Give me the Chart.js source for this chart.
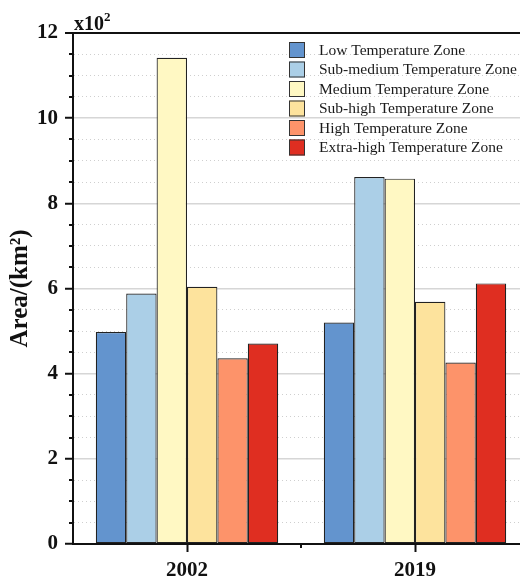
<!DOCTYPE html>
<html>
<head>
<meta charset="utf-8">
<script src="https://cdn.jsdelivr.net/npm/chart.js@4"></script>
<style>
  body { margin: 0; background: #fff; }
  #wrap { width: 520px; height: 580px; overflow: hidden; }
</style>
</head>
<body>
<div id="wrap"><canvas id="myChart" width="530" height="580"></canvas></div>
<script>
// data (values in units of 10^2 km2)
const years = ['2002', '2019'];
const zoneNames = [
    'Low Temperature Zone',
    'Sub-medium Temperature Zone',
    'Medium Temperature Zone',
    'Sub-high Temperature Zone',
    'High Temperature Zone',
    'Extra-high Temperature Zone'
];
const lowZone = [4.98, 5.20];
const subMediumZone = [5.88, 8.62];
const mediumZone = [11.42, 8.58];
const subHighZone = [6.04, 5.69];
const highZone = [4.36, 4.26];
const extraHighZone = [4.71, 6.12];
const yMajorTicks = [0, 2, 4, 6, 8, 10, 12];

const zoneColors = ['#6394ce', '#abcfe7', '#fff8c3', '#fde39d', '#fd936a', '#df2e21'];
const serif = 'Liberation Serif';

var ctx = document.getElementById('myChart').getContext('2d');

const seriesList = [lowZone, subMediumZone, mediumZone, subHighZone, highZone, extraHighZone];

function isMajor(v) {
    return yMajorTicks.indexOf(v) >= 0;
}

// minor ticks, the x10^2 note and the legend drawn inside the plot
const extras = {
    id: 'extras',
    afterDraw(chart) {
        const c = chart.ctx;
        const y = chart.scales.y;
        const x = chart.scales.x;
        c.save();
        c.strokeStyle = '#111';
        c.lineWidth = 2;
        // minor y ticks
        y.ticks.forEach(t => {
            if (!isMajor(t.value)) {
                const py = Math.round(y.getPixelForValue(t.value));
                c.beginPath();
                c.moveTo(y.right - 4, py);
                c.lineTo(y.right, py);
                c.stroke();
            }
        });
        // minor x ticks between categories
        for (let i = 0; i < years.length; i++) {
            const px = Math.round(x.getPixelForValue(i) + (x.getPixelForValue(1) - x.getPixelForValue(0)) / 2);
            c.beginPath();
            c.moveTo(px, x.top);
            c.lineTo(px, x.top + 4);
            c.stroke();
        }

        // x10^2
        c.fillStyle = '#111';
        c.textBaseline = 'alphabetic';
        c.textAlign = 'left';
        c.font = 'bold 20px "' + serif + '"';
        c.fillText('x10', 74, 30);
        const w = c.measureText('x10').width;
        c.font = 'bold 13px "' + serif + '"';
        c.fillText('2', 74 + w, 21);

        // legend
        c.font = '15.5px "' + serif + '"';
        c.textBaseline = 'middle';
        chart.data.datasets.forEach((ds, i) => {
            const top = 42 + i * 19.5;
            c.fillStyle = ds.backgroundColor;
            c.fillRect(289, top, 16, 16);
            c.lineWidth = 1;
            c.strokeStyle = '#333';
            c.strokeRect(289.5, top + 0.5, 15, 15);
            c.fillStyle = '#1a1a1a';
            c.fillText(ds.label, 319, top + 8.5);
        });
        c.restore();
    }
};

var chart = new Chart(ctx, {
    type: 'bar',
    data: {
        labels: years,
        datasets: seriesList.map((vals, i) => ({
            label: zoneNames[i],
            data: vals,
            backgroundColor: zoneColors[i],
            borderColor: '#222',
            borderWidth: 1.2,
            borderSkipped: false,
            barPercentage: 1.0,
            categoryPercentage: 0.8
        }))
    },
    options: {
        responsive: false,
        animation: false,
        layout: { padding: { top: 33, right: 1, left: 0, bottom: 0 } },
        plugins: {
            legend: { display: false },
            tooltip: { enabled: false }
        },
        scales: {
            x: {
                grid: {
                    drawOnChartArea: false,
                    offset: false,
                    tickLength: 8,
                    tickWidth: 2,
                    tickColor: '#111'
                },
                border: { color: '#111', width: 2 },
                ticks: {
                    color: '#111',
                    padding: 6,
                    font: { family: serif, size: 21, weight: 'bold' }
                },
                afterFit(scale) { scale.height = 36; }
            },
            y: {
                min: 0,
                max: 12,
                grid: {
                    color: c => c.tick.value === 12 ? '#111' : (isMajor(c.tick.value) ? '#d6d6d6' : '#cfcfcf'),
                    lineWidth: c => c.tick.value === 12 ? 2 : (isMajor(c.tick.value) ? 1.5 : 1),
                    tickLength: 8,
                    tickWidth: 2,
                    tickColor: c => isMajor(c.tick.value) ? '#111' : 'rgba(0,0,0,0)'
                },
                border: {
                    color: '#111',
                    width: 2,
                    dash: c => (c.tick && !isMajor(c.tick.value)) ? [1, 3] : []
                },
                ticks: {
                    stepSize: 0.5,
                    autoSkip: false,
                    color: '#111',
                    padding: 7,
                    font: { family: serif, size: 21, weight: 'bold' },
                    callback: v => isMajor(v) ? v : ''
                },
                title: {
                    display: true,
                    text: 'Area/(km²)',
                    color: '#111',
                    padding: { top: 6, bottom: 0 },
                    font: { family: serif, size: 25, weight: 'bold' }
                },
                afterFit(scale) { scale.width = 73; }
            }
        }
    },
    plugins: [extras]
});
</script>
</body>
</html>
